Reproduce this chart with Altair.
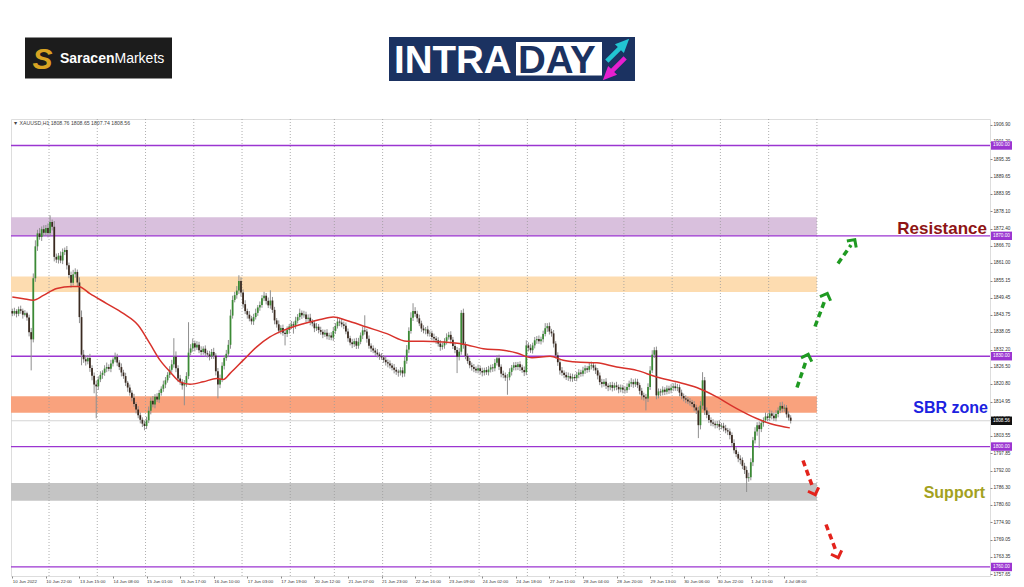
import json
import altair as alt
import pandas as pd

# ---------------- data ----------------
close = [
    1844.2,1845.0,1844.1,1845.6,1845.1,1843.8,1844.3,1842.9,1838.0,1835.6,
    1855.9,1866.5,1870.8,1869.6,1872.2,1871.0,1872.6,1870.9,1874.6,1873.0,
    1863.0,1862.1,1863.4,1861.8,1864.6,1865.3,1860.2,1857.0,1854.4,1857.2,
    1858.0,1854.5,1843.0,1830.5,1829.0,1828.3,1829.4,1826.1,1823.5,1820.6,
    1820.0,1822.3,1823.8,1824.5,1825.9,1826.4,1825.8,1827.6,1828.9,1829.8,
    1827.9,1826.4,1824.6,1823.4,1821.2,1819.6,1817.9,1816.2,1814.1,1812.3,
    1810.4,1808.9,1807.6,1806.8,1808.7,1811.9,1815.2,1814.0,1816.5,1815.6,
    1817.8,1819.2,1820.6,1822.0,1823.8,1825.5,1827.3,1829.8,1826.0,1822.6,
    1821.5,1820.3,1821.0,1823.4,1831.2,1832.6,1834.3,1832.9,1833.8,1832.0,
    1831.4,1832.5,1831.0,1830.6,1829.9,1831.4,1830.2,1825.0,1820.6,1822.4,
    1826.8,1829.4,1830.8,1833.8,1843.5,1848.7,1850.3,1851.8,1855.0,1851.2,
    1847.3,1845.0,1843.8,1842.5,1841.6,1843.0,1844.4,1846.2,1847.0,1849.3,
    1850.1,1848.4,1846.9,1848.5,1845.4,1841.9,1840.6,1838.5,1839.4,1837.8,
    1837.4,1838.7,1839.9,1840.6,1840.2,1841.8,1843.0,1844.4,1843.6,1843.9,
    1842.4,1842.8,1841.5,1840.9,1839.3,1839.8,1838.7,1838.1,1837.2,1837.8,
    1836.6,1836.9,1836.2,1838.4,1840.0,1841.5,1841.2,1840.6,1840.1,1838.2,
    1836.0,1834.6,1834.0,1835.0,1833.5,1834.8,1836.9,1838.6,1838.2,1835.8,
    1833.5,1832.6,1831.9,1831.2,1830.6,1830.0,1829.6,1828.8,1828.0,1827.6,
    1826.9,1826.2,1825.5,1824.9,1824.6,1825.3,1824.3,1828.5,1832.2,1838.4,
    1842.8,1845.0,1844.1,1842.6,1840.9,1839.2,1838.6,1838.9,1837.5,1837.6,
    1836.4,1835.9,1835.3,1834.2,1833.1,1833.6,1834.9,1836.3,1837.1,1835.5,
    1833.4,1832.1,1829.8,1831.5,1844.4,1833.8,1830.1,1828.4,1827.0,1826.4,
    1825.8,1825.3,1826.0,1825.1,1824.6,1825.4,1824.7,1825.6,1826.3,1826.0,
    1827.8,1829.3,1826.5,1824.2,1823.7,1822.9,1823.0,1824.8,1826.2,1827.0,
    1826.4,1827.3,1826.3,1825.4,1824.7,1833.6,1832.8,1832.0,1833.6,1835.3,
    1835.7,1835.0,1835.6,1837.4,1839.3,1840.0,1838.2,1837.6,1834.2,1830.3,
    1828.0,1825.3,1824.5,1823.8,1823.0,1823.4,1822.6,1823.1,1822.7,1823.8,
    1824.6,1824.2,1825.3,1826.0,1825.5,1826.7,1827.0,1826.2,1825.3,1823.6,
    1821.4,1820.8,1821.5,1820.2,1819.7,1820.4,1819.5,1820.3,1819.8,1819.0,
    1819.6,1818.9,1818.7,1819.8,1820.9,1821.4,1820.7,1821.5,1820.4,1818.5,
    1817.0,1816.4,1816.0,1819.8,1825.3,1830.5,1832.0,1817.0,1818.3,1818.0,
    1818.9,1818.2,1819.3,1818.7,1819.5,1820.0,1819.4,1819.7,1817.9,1816.8,
    1816.0,1815.6,1815.0,1814.7,1814.1,1813.0,1812.0,1807.1,1813.6,1822.0,
    1812.0,1810.5,1808.8,1808.0,1807.6,1807.1,1807.5,1806.6,1806.9,1806.1,
    1805.4,1805.0,1803.8,1801.2,1798.8,1797.5,1796.0,1795.5,1793.6,1792.2,
    1789.5,1789.8,1794.8,1802.1,1805.0,1807.1,1805.8,1807.8,1808.8,1810.0,
    1809.5,1811.0,1810.2,1809.4,1810.8,1812.0,1813.5,1812.6,1812.9,1810.7,
    1809.6,1808.56,
]
first_open = 1845.0

upper_wick = [
    0.8,1.1,0.6,0.9,1.2,0.7,1.0,0.5,0.9,1.4, 1.6,2.0,1.2,1.8,0.9,1.3,1.0,1.5,2.2,0.8,
    1.9,1.1,0.9,1.4,1.2,0.8,1.3,0.9,1.1,1.5, 1.2,0.8,1.7,2.2,1.6,1.3,1.0,1.4,0.9,1.1,
    1.3,1.0,1.2,0.8,1.1,1.5,0.9,1.2,0.7,1.4, 1.0,0.8,1.2,0.9,1.1,0.6,1.0,0.8,1.3,0.7,
    1.1,0.9,0.8,1.0,1.2,1.4,1.1,1.6,0.9,1.2, 1.0,0.8,1.3,1.1,0.9,1.2,1.5,6.2,1.8,1.0,
    1.2,0.9,1.1,1.3,10.1,1.4,1.6,0.9,1.2,1.0, 1.3,0.8,1.1,0.9,1.2,1.0,1.4,0.8,1.1,1.5,
    1.2,0.9,1.3,1.6,2.0,1.4,1.1,1.5,1.9,1.2, 1.0,1.3,0.8,1.2,0.9,1.1,1.4,0.8,1.2,1.0,
    1.3,0.9,1.1,3.4,1.2,1.0,0.8,1.3,0.9,1.1, 1.0,1.2,0.8,1.1,0.9,1.3,1.0,1.4,0.8,1.2,
    0.9,1.1,1.3,0.8,1.0,1.2,0.9,1.1,0.8,1.0, 1.2,0.9,1.1,1.3,1.0,1.4,0.8,1.2,0.9,1.1,
    1.0,0.8,1.2,0.9,1.1,1.3,1.0,1.2,5.0,0.9, 1.1,0.8,1.0,0.9,1.2,0.7,1.0,0.8,1.1,0.9,
    1.0,0.8,1.2,0.9,0.7,1.1,1.0,1.3,1.5,1.2, 1.8,2.6,1.3,1.0,1.2,0.9,1.1,0.8,1.2,1.0,
    0.9,1.1,0.8,1.0,1.2,0.9,1.1,1.3,1.0,1.2, 0.9,1.1,1.0,1.2,0.9,1.4,1.0,0.8,1.1,0.9,
    1.0,0.8,1.2,0.9,1.1,0.8,1.0,1.2,0.9,1.1, 1.3,1.0,1.2,0.8,1.0,0.9,1.1,1.2,0.9,1.0,
    1.1,0.8,1.0,0.9,1.2,1.7,1.0,1.2,0.9,1.1, 1.0,1.2,0.9,1.1,1.7,1.0,1.2,0.9,1.1,0.8,
    1.0,0.9,1.1,0.8,1.0,1.2,0.9,1.1,0.8,1.0, 1.1,0.9,1.2,1.0,0.8,1.1,1.2,0.9,1.0,0.8,
    1.0,1.1,0.9,1.2,0.8,1.0,1.1,0.9,1.2,0.8, 1.0,0.9,1.1,1.2,1.0,1.3,0.9,1.1,1.0,0.8,
    1.0,0.9,1.1,1.2,1.4,1.5,1.0,1.2,1.0,0.9, 1.1,0.8,1.0,0.9,1.2,1.0,1.3,1.1,0.9,1.0,
    0.8,1.0,0.9,1.1,0.8,1.0,0.9,1.2,1.5,2.7, 1.1,1.0,1.2,0.9,1.1,0.8,1.0,1.2,0.9,1.0,
    1.1,0.8,1.0,0.9,1.2,1.0,0.8,1.1,0.9,1.0, 1.2,1.5,1.3,1.1,1.4,1.0,1.2,1.1,0.9,1.3,
    1.0,1.2,0.9,1.1,1.3,1.0,1.2,1.4,1.1,0.9, 1.0,0.8,
]
lower_wick = [
    0.9,0.7,1.2,0.8,1.0,1.3,0.6,1.1,1.4,10.3, 1.0,1.2,1.5,0.9,1.3,1.1,0.8,1.4,1.0,1.2,
    1.5,1.1,1.3,0.9,1.2,1.0,1.4,1.1,1.6,0.9, 1.1,1.3,2.0,3.5,1.2,1.4,1.0,1.3,1.5,2.9,
    10.6,1.2,0.9,1.3,1.0,1.2,0.8,1.1,1.0,0.9, 1.2,1.0,1.3,0.9,1.1,1.4,1.0,1.2,0.9,1.3,
    1.0,1.2,1.1,1.4,1.0,0.9,1.2,1.0,1.3,0.8, 1.1,0.9,1.0,1.2,0.8,1.0,0.9,1.1,1.3,1.2,
    1.0,1.4,6.6,1.2,1.0,0.9,1.1,1.3,0.8,1.0, 1.1,0.9,1.2,1.0,1.3,0.8,1.1,1.4,4.6,1.2,
    1.0,1.2,0.9,1.1,1.3,1.0,0.8,1.2,1.1,1.4, 1.2,1.0,1.3,0.9,1.1,1.2,0.8,1.0,1.1,0.9,
    1.0,1.2,0.9,1.1,1.0,1.3,1.1,0.9,1.2,1.0, 3.8,1.0,1.2,0.9,2.7,1.1,0.9,1.0,1.2,0.8,
    1.1,0.9,1.2,1.0,1.3,0.9,1.1,1.0,1.2,0.8, 1.0,1.2,0.9,1.1,1.0,0.8,1.2,1.0,1.1,0.9,
    1.2,1.0,1.3,0.9,1.1,1.0,0.8,1.2,1.0,1.3, 1.0,1.2,0.9,1.1,1.0,1.2,0.8,1.0,1.1,1.3,
    1.0,0.9,1.2,1.1,1.4,1.0,1.3,1.1,1.0,1.2, 0.9,1.1,1.0,1.2,0.9,1.1,1.0,1.3,0.9,1.0,
    1.1,0.9,1.2,1.0,1.3,0.9,1.1,1.0,0.8,1.2, 1.0,1.1,5.4,1.2,1.0,1.3,1.1,0.9,1.0,1.2,
    1.1,0.9,1.0,1.2,1.3,1.0,0.9,1.1,1.0,1.2, 1.0,0.9,1.1,1.2,1.0,1.1,5.7,1.0,1.2,0.9,
    1.1,1.0,1.2,0.9,1.3,1.0,1.2,0.9,1.1,1.0, 1.2,0.9,1.1,1.0,0.8,1.2,1.0,1.1,1.3,1.0,
    1.2,1.4,1.0,1.1,0.9,1.2,1.0,1.1,0.9,1.0, 1.1,1.0,0.9,1.2,1.0,0.8,1.1,1.0,1.2,1.3,
    1.0,1.2,0.9,1.1,1.3,1.0,1.2,0.9,1.1,1.3, 1.0,1.2,1.1,0.9,1.0,1.1,1.2,0.9,1.0,1.2,
    1.4,1.1,4.0,1.2,1.0,0.9,1.1,1.3,1.0,1.2, 1.0,1.1,0.9,1.2,1.0,1.1,0.9,1.0,1.2,1.1,
    1.0,1.2,0.9,1.1,1.0,1.3,1.2,4.3,1.4,1.2, 1.5,1.1,1.0,1.2,0.9,1.1,1.0,1.2,0.9,1.1,
    1.0,1.2,1.4,1.3,1.1,1.0,1.2,1.4,1.1,1.3, 4.6,1.2,1.0,1.3,1.1,1.4,6.3,1.0,1.2,0.9,
    1.1,1.0,1.2,0.9,1.0,1.1,0.9,1.2,1.0,1.1, 1.0,0.9,
]

# moving average (red line), vertices
ma_bar = [0, 5.3, 10, 14.8, 21.2, 28.3, 31.5, 37, 45, 52.9, 60, 65.6, 70.4, 75.2, 79.9, 84.7,
          91, 97.4, 100.6, 103.8, 110.1, 116.5, 122.8, 129.2, 138.7, 146.7, 153, 159.4, 168.9,
          178.5, 188, 195.9, 205.4, 215, 224.5, 234, 240.4, 247.7, 256.3, 262.6, 269, 278.6,
          288.1, 297.6, 307.1, 316.7, 326.2, 335.7, 345.3, 354.8, 362.7, 370.6]
ma_val = [1849.7, 1849.1, 1848.6, 1850.2, 1852.5, 1853.2, 1853.2, 1850.8, 1847.5, 1844.2,
          1840.3, 1834.2, 1828.7, 1824.8, 1821.5, 1820.7, 1821.5, 1822.6, 1822.3, 1824.3,
          1828.7, 1833.1, 1836.4, 1838.6, 1840.8, 1842.2, 1843.0, 1841.9, 1839.7, 1837.5,
          1835.0, 1835.0, 1834.7, 1834.0, 1832.5, 1832.0, 1831.1, 1829.5, 1830.0, 1828.7,
          1828.1, 1827.8, 1826.4, 1825.3, 1823.1, 1821.5, 1819.6, 1816.5, 1812.6, 1809.3,
          1807.3, 1806.2]

# time axis labels (every 16 bars) and day separators (bar index)
x_labels = ["10 Jun 2022", "10 Jun 22:00", "13 Jun 15:00", "14 Jun 08:00", "15 Jun 01:00",
            "15 Jun 17:00", "16 Jun 10:00", "17 Jun 03:00", "17 Jun 19:00", "20 Jun 12:00",
            "21 Jun 07:00", "21 Jun 23:00", "22 Jun 16:00", "23 Jun 09:00", "24 Jun 02:00",
            "24 Jun 18:00", "27 Jun 11:00", "28 Jun 04:00", "28 Jun 20:00", "29 Jun 13:00",
            "30 Jun 06:00", "30 Jun 22:00", "1 Jul 15:00", "4 Jul 08:00"]
day_breaks = [17.5, 40.5, 63.5, 86.5, 109.5, 132.5, 153.5, 176.5, 199.5, 222.5, 245.5,
              268.5, 291.5, 314.5, 337.5, 360.5, 383.5]

y_ticks = [1906.90, 1901.20, 1895.35, 1889.65, 1883.95, 1878.10, 1872.40, 1866.70, 1861.00,
           1855.15, 1849.45, 1843.75, 1838.05, 1832.20, 1826.50, 1820.80, 1814.95, 1809.25,
           1803.55, 1797.85, 1792.00, 1786.30, 1780.60, 1774.90, 1769.05, 1763.35, 1757.65]

levels = [1900.0, 1870.0, 1830.0, 1800.0, 1760.0]
last_price = 1808.56

zone_top = [1876.2, 1856.5, 1816.7, 1787.9]
zone_bot = [1870.0, 1851.3, 1811.2, 1782.0]
zone_end = [383.5, 383.5, 383.5, 383.5]
zone_col = ["#d9c0dd", "#fddcb0", "#f9a27d", "#c4c4c4"]

# ---------------- chart ----------------
W, H = 979, 457
XDOM = [-0.62, 466.0]
YDOM = [1757.0, 1908.8]
xs = alt.Scale(domain=XDOM, nice=False, zero=False)
ys = alt.Scale(domain=YDOM, nice=False, zero=False)
PURPLE = "#9b35d1"
FONT = "Liberation Sans"

opens = [first_open] + close[:-1]
rows = []
for i, c in enumerate(close):
    o = opens[i]
    rows.append({"i": i, "o": o, "c": c,
                 "hi": max(o, c) + upper_wick[i], "lo": min(o, c) - lower_wick[i],
                 "dir": "up" if c >= o else "down"})
bars = pd.DataFrame(rows)

x_axis = alt.Axis(values=list(range(0, 16 * len(x_labels), 16)),
                  labelExpr=json.dumps(x_labels) + "[round(datum.value/16)]",
                  labelAlign="left", labelFlush=False, labelOverlap=False,
                  labelFontSize=4.4, labelFont=FONT, labelColor="#333", labelPadding=1,
                  tickSize=2, tickColor="#888", domain=False, grid=False, title=None)
y_axis = alt.Axis(values=y_ticks, format=".2f", orient="right",
                  labelFontSize=4.7, labelFont=FONT, labelColor="#333", labelPadding=1,
                  labelOverlap=False, labelFlush=False,
                  tickSize=2, tickColor="#888", domain=False, grid=False, title=None)


def X(f):
    return alt.X(f, scale=xs, axis=x_axis)


def Y(f):
    return alt.Y(f, scale=ys, axis=y_axis)


zones = pd.DataFrame({"top": zone_top, "bot": zone_bot, "end": zone_end, "col": zone_col})
zones["start"] = XDOM[0]
zone_layer = alt.Chart(zones).mark_rect().encode(
    x=X("start:Q"), x2="end:Q", y=Y("top:Q"), y2="bot:Q",
    color=alt.Color("col:N", scale=None))

grid_layer = alt.Chart(pd.DataFrame({"d": day_breaks})).mark_rule(
    color="#9a9a9a", strokeDash=[1, 2], strokeWidth=0.8).encode(
    x=X("d:Q"), y=alt.value(0), y2=alt.value(H))

bid_layer = alt.Chart(pd.DataFrame({"p": [last_price]})).mark_rule(
    color="#d4d4d4", strokeWidth=1).encode(
    y=Y("p:Q"), x=alt.value(0), x2=alt.value(W))

wick_layer = alt.Chart(bars).mark_rule(color="#8f8f8f", strokeWidth=1).encode(
    x=X("i:Q"), y=Y("lo:Q"), y2="hi:Q")

body_layer = alt.Chart(bars).transform_calculate(
    x1="datum.i - 0.42", x2="datum.i + 0.42").mark_rect().encode(
    x=X("x1:Q"), x2="x2:Q", y=Y("o:Q"), y2="c:Q",
    color=alt.Color("dir:N", scale=alt.Scale(domain=["up", "down"],
                                             range=["#3b8a35", "#3a2a20"]), legend=None))

ma_layer = alt.Chart(pd.DataFrame({"b": ma_bar, "v": ma_val})).mark_line(
    color="#d8322b", strokeWidth=1.5, interpolate="monotone").encode(
    x=X("b:Q"), y=Y("v:Q"))

lev = pd.DataFrame({"p": levels})
level_layer = alt.Chart(lev).mark_rule(color=PURPLE, strokeWidth=1.3).encode(
    y=Y("p:Q"), x=alt.value(0), x2=alt.value(W))

BOX_X0, BOX_X1 = W + 1, W + 22
box_layer = alt.Chart(lev).transform_calculate(
    a="datum.p - 1.4", b="datum.p + 1.4").mark_rect(color=PURPLE).encode(
    y=Y("a:Q"), y2="b:Q", x=alt.value(BOX_X0), x2=alt.value(BOX_X1))
box_text = alt.Chart(lev).mark_text(color="white", fontSize=4.7, font=FONT,
                                    align="center", baseline="middle").encode(
    y=Y("p:Q"), x=alt.value((BOX_X0 + BOX_X1) / 2),
    text=alt.Text("p:Q", format=".2f"))

bidp = pd.DataFrame({"p": [last_price]})
bid_box = alt.Chart(bidp).transform_calculate(
    a="datum.p - 1.4", b="datum.p + 1.4").mark_rect(color="#111").encode(
    y=Y("a:Q"), y2="b:Q", x=alt.value(BOX_X0), x2=alt.value(BOX_X1))
bid_text = alt.Chart(bidp).mark_text(color="white", fontSize=4.7, font=FONT,
                                     align="center", baseline="middle").encode(
    y=Y("p:Q"), x=alt.value((BOX_X0 + BOX_X1) / 2),
    text=alt.Text("p:Q", format=".2f"))

one = pd.DataFrame({"a": [0]})


def vtext(txt, x, y, **kw):
    return alt.Chart(one).mark_text(text=txt, **kw).encode(x=alt.value(x), y=alt.value(y))


def vrect(x0, x1, y0, y1, color):
    return alt.Chart(one).mark_rect(color=color).encode(
        x=alt.value(x0), x2=alt.value(x1), y=alt.value(y0), y2=alt.value(y1))


def dash(x0, y0, x1, y1, color):
    return alt.Chart(one).mark_rule(color=color, strokeWidth=3.5, strokeDash=[6, 4]).encode(
        x=alt.value(x0), x2=alt.value(x1), y=alt.value(y0), y2=alt.value(y1))


CHEVRON = "M -1 0.6 L 0 -0.4 L 1 0.6"


def head(x, y, ang, color):
    return alt.Chart(one).mark_point(shape=CHEVRON, size=130, color=color, strokeWidth=3,
                                     filled=False, angle=ang, opacity=1).encode(
        x=alt.value(x), y=alt.value(y))


GREEN, RED = "#1f9a22", "#e3231c"
LABEL_FONT = "Liberation Sans Narrow, Liberation Sans"
annot = [
    vtext("Resistance", 976, 114.5, align="right", baseline="alphabetic", fontSize=17,
          fontWeight="bold", font=LABEL_FONT, color="#8e1414"),
    vtext("SBR zone", 977, 293.5, align="right", baseline="alphabetic", fontSize=16,
          fontWeight="bold", font=LABEL_FONT, color="#1c22e0"),
    vtext("Support", 974, 378.5, align="right", baseline="alphabetic", fontSize=16,
          fontWeight="bold", font=LABEL_FONT, color="#a3a11e"),
    dash(786, 268.5, 795, 242, GREEN), head(796.5, 237.5, 19, GREEN),
    dash(804, 207.5, 814, 181, GREEN), head(815.5, 176.5, 21, GREEN),
    dash(827, 144.5, 840, 126, GREEN), head(842.5, 122.5, 35, GREEN),
    dash(792, 341.5, 802, 369, RED), head(803.5, 373.5, 160, RED),
    dash(815, 405.5, 825, 432, RED), head(826.5, 436.5, 160, RED),
    vtext("\u25BC XAUUSD,H1  1808.76 1808.65 1807.74 1808.56", 2, 4, align="left",
          baseline="middle", fontSize=5.2, font=FONT, color="#444"),
]

header = [
    vrect(14, 161, -81.5, -40.5, "#1c1c1c"),
    vtext("S", 31.5, -50, align="center", baseline="alphabetic", fontSize=30,
          fontWeight="bold", fontStyle="italic", font=FONT, color="#d8a423"),
    vtext("Saracen", 49, -56.5, align="left", baseline="alphabetic", fontSize=14,
          fontWeight="bold", font=FONT, color="white"),
    vtext("Markets", 103.5, -56.5, align="left", baseline="alphabetic", fontSize=14,
          font=FONT, color="white"),
    vrect(378, 624, -82, -38, "#1b3261"),
    vrect(505, 591, -77, -43.5, "white"),
    vtext("INTRA", 383, -46.5, align="left", baseline="alphabetic", fontSize=38.5,
          fontWeight="bold", font=FONT, color="white"),
    vtext("DAY", 507, -46.5, align="left", baseline="alphabetic", fontSize=38.5,
          fontWeight="bold", font=FONT, color="#1b3261"),
    alt.Chart(one).mark_point(shape="arrow", size=1000, filled=True, color="#22c4d2",
                              angle=45, opacity=1).encode(x=alt.value(607), y=alt.value(-69)),
    alt.Chart(one).mark_point(shape="arrow", size=1000, filled=True, color="#e51fcf",
                              angle=225, opacity=1).encode(x=alt.value(603), y=alt.value(-50)),
]

chart = alt.layer(
    zone_layer, grid_layer, bid_layer, level_layer, wick_layer,
    body_layer, ma_layer, box_layer, box_text, bid_box, bid_text, *annot, *header
).properties(
    width=W, height=H,
    padding={"left": 3, "top": 111, "right": 26, "bottom": 8},
    autosize=alt.AutoSizeParams(type="none"),
).configure_view(stroke="#8a8a8a", strokeWidth=1).configure(background="white")

chart.save("out.html", embed_options={"renderer": "svg", "actions": False})
